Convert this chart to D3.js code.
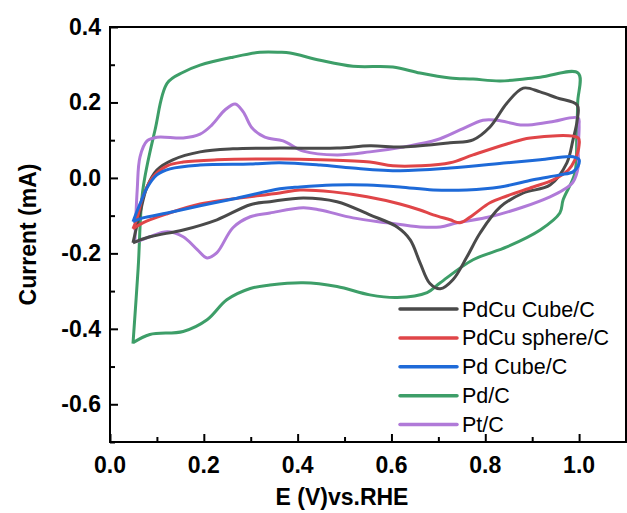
<!DOCTYPE html>
<html>
<head>
<meta charset="utf-8">
<script src="https://cdn.jsdelivr.net/npm/d3@7"></script>
<style>
  body { margin: 0; background: #fff; }
  svg { display: block; font-family: "Liberation Sans", Arial, sans-serif; }
</style>
</head>
<body>
<svg id="chart" width="627" height="513"></svg>
<script>
// CV curves: [E (V), I (mA)], anodic sweep then cathodic back
const pdcuCube = [
  [0.049,-0.172],[0.064,-0.093],[0.079,-0.024],[0.100,0.021],[0.134,0.048],[0.192,0.069],
  [0.262,0.077],[0.362,0.079],[0.484,0.079],[0.554,0.085],[0.625,0.082],[0.725,0.093],
  [0.774,0.101],[0.810,0.135],[0.846,0.198],[0.881,0.238],[0.917,0.228],[0.953,0.212],
  [0.996,0.193],
  [0.996,0.153],[0.987,0.101],[0.974,0.040],[0.938,-0.019],[0.881,-0.040],[0.832,-0.077],
  [0.789,-0.146],[0.761,-0.209],[0.731,-0.270],[0.704,-0.294],[0.682,-0.280],[0.661,-0.225],
  [0.640,-0.164],[0.612,-0.130],[0.554,-0.098],[0.484,-0.063],[0.412,-0.053],[0.341,-0.063],
  [0.299,-0.071],[0.228,-0.111],[0.156,-0.138],[0.085,-0.156],[0.049,-0.172]
];
const pdcuSphere = [
  [0.049,-0.135],[0.058,-0.106],[0.070,-0.050],[0.092,0.003],[0.122,0.032],[0.156,0.042],
  [0.228,0.048],[0.362,0.050],[0.448,0.048],[0.554,0.042],[0.603,0.032],[0.661,0.032],
  [0.725,0.040],[0.774,0.061],[0.846,0.090],[0.896,0.106],[0.998,0.106],
  [1.000,0.087],[0.991,0.048],[0.977,0.021],[0.945,-0.005],[0.902,-0.024],[0.846,-0.048],
  [0.810,-0.066],[0.774,-0.098],[0.746,-0.119],[0.725,-0.111],[0.689,-0.098],[0.661,-0.085],
  [0.618,-0.069],[0.548,-0.050],[0.475,-0.037],[0.405,-0.032],[0.362,-0.040],[0.192,-0.069],
  [0.122,-0.095],[0.070,-0.119],[0.049,-0.135]
];
const pdCube = [
  [0.049,-0.116],[0.064,-0.069],[0.079,-0.026],[0.100,0.008],[0.128,0.024],[0.192,0.034],
  [0.299,0.037],[0.362,0.040],[0.448,0.034],[0.518,0.026],[0.618,0.019],[0.725,0.026],
  [0.846,0.040],[0.917,0.048],[0.987,0.056],[1.000,0.048],
  [0.998,0.032],[0.987,0.016],[0.959,0.008],[0.902,-0.005],[0.832,-0.024],[0.761,-0.032],
  [0.689,-0.032],[0.618,-0.024],[0.548,-0.019],[0.475,-0.019],[0.405,-0.024],[0.362,-0.029],
  [0.262,-0.056],[0.192,-0.074],[0.122,-0.093],[0.070,-0.106],[0.049,-0.116]
];
const pdC = [
  [0.049,-0.439],[0.060,-0.240],[0.070,-0.032],[0.096,0.127],[0.122,0.251],[0.156,0.280],
  [0.192,0.299],[0.262,0.320],[0.320,0.333],[0.362,0.333],[0.384,0.331],[0.448,0.312],
  [0.518,0.296],[0.603,0.294],[0.661,0.278],[0.725,0.265],[0.774,0.262],[0.832,0.257],
  [0.917,0.267],[0.998,0.278],
  [0.997,0.200],[0.995,0.110],[0.991,0.013],[0.966,-0.058],[0.959,-0.093],[0.917,-0.138],
  [0.846,-0.183],[0.774,-0.217],[0.704,-0.278],[0.676,-0.304],[0.612,-0.317],[0.554,-0.310],
  [0.484,-0.288],[0.412,-0.278],[0.341,-0.284],[0.299,-0.293],[0.249,-0.323],[0.207,-0.376],
  [0.156,-0.407],[0.085,-0.415],[0.049,-0.437]
];
const ptC = [
  [0.053,-0.172],[0.058,-0.032],[0.064,0.056],[0.079,0.098],[0.100,0.108],[0.156,0.106],
  [0.192,0.116],[0.217,0.140],[0.245,0.180],[0.267,0.196],[0.284,0.175],[0.303,0.132],
  [0.330,0.108],[0.369,0.098],[0.412,0.071],[0.484,0.061],[0.554,0.069],[0.625,0.082],
  [0.697,0.101],[0.746,0.127],[0.795,0.153],[0.825,0.153],[0.881,0.140],[0.938,0.148],
  [0.998,0.159],
  [1.000,0.140],[0.998,0.074],[0.998,0.029],[0.987,-0.011],[0.966,-0.032],[0.938,-0.050],
  [0.881,-0.077],[0.810,-0.103],[0.740,-0.119],[0.704,-0.130],[0.661,-0.130],[0.591,-0.119],
  [0.518,-0.106],[0.448,-0.085],[0.412,-0.079],[0.341,-0.093],[0.299,-0.103],[0.262,-0.132],
  [0.228,-0.198],[0.207,-0.212],[0.186,-0.190],[0.156,-0.156],[0.122,-0.143],[0.085,-0.156],
  [0.058,-0.169]
];

const seriesNames = ['PdCu Cube/C', 'PdCu sphere/C', 'Pd Cube/C', 'Pd/C', 'Pt/C'];
const seriesData = [pdcuCube, pdcuSphere, pdCube, pdC, ptC];
const seriesColors = ['#4a4a4a', '#e04548', '#1e6ad8', '#3d9e68', '#b07ad8'];
// draw order: back to front
const drawOrder = [3, 4, 0, 1, 2];

const xTicks = [0.0, 0.2, 0.4, 0.6, 0.8, 1.0];
const yTicks = [-0.6, -0.4, -0.2, 0.0, 0.2, 0.4];

const svg = d3.select('#chart');
const plot = { left: 110, right: 626, top: 27, bottom: 442 };

const x = d3.scaleLinear().domain([0, 1.1]).range([plot.left, plot.right]);
const y = d3.scaleLinear().domain([-0.7, 0.4]).range([plot.bottom, plot.top]);

// curves
const line = d3.line()
  .x(d => x(d[0]))
  .y(d => y(d[1]))
  .curve(d3.curveCatmullRom.alpha(0.5));

svg.append('g')
  .selectAll('path')
  .data(drawOrder)
  .enter().append('path')
  .attr('d', i => line(seriesData[i]))
  .attr('fill', 'none')
  .attr('stroke', i => seriesColors[i])
  .attr('stroke-width', 3)
  .attr('stroke-linejoin', 'round');

// frame
svg.append('rect')
  .attr('x', plot.left).attr('y', plot.top)
  .attr('width', plot.right - plot.left).attr('height', plot.bottom - plot.top)
  .attr('fill', 'none').attr('stroke', '#000').attr('stroke-width', 2);

// x axis: ticks inward
const xAxis = svg.append('g').attr('transform', `translate(0,${plot.bottom})`);
xAxis.call(d3.axisBottom(x).tickValues(d3.range(0, 1.11, 0.1)).tickSize(0).tickFormat(''));
xAxis.select('.domain').remove();
xAxis.selectAll('.tick line')
  .attr('y2', (d, i) => i % 2 === 0 ? -8 : -5)
  .attr('stroke', '#000').attr('stroke-width', 2);

svg.append('g').selectAll('text')
  .data(xTicks).enter().append('text')
  .attr('x', d => x(d)).attr('y', plot.bottom + 31)
  .attr('text-anchor', 'middle')
  .attr('font-size', 23).attr('font-weight', 'bold')
  .text(d => d3.format('.1f')(d));

// y axis
const yAxis = svg.append('g').attr('transform', `translate(${plot.left},0)`);
yAxis.call(d3.axisLeft(y).tickValues(d3.range(-0.7, 0.41, 0.1)).tickSize(0).tickFormat(''));
yAxis.select('.domain').remove();
yAxis.selectAll('.tick line')
  .attr('x2', d => Math.round(d * 10) % 2 === 0 ? 8 : 5)
  .attr('stroke', '#000').attr('stroke-width', 2);

svg.append('g').selectAll('text')
  .data(yTicks).enter().append('text')
  .attr('x', plot.left - 9).attr('y', d => y(d) + 8)
  .attr('text-anchor', 'end')
  .attr('font-size', 23).attr('font-weight', 'bold')
  .text(d => d3.format('.1f')(d).replace('−', '-'));

// axis titles
svg.append('text')
  .attr('x', 342).attr('y', 505)
  .attr('text-anchor', 'middle')
  .attr('font-size', 23).attr('font-weight', 'bold')
  .text('E (V)vs.RHE');

svg.append('text')
  .attr('transform', `translate(36,${(plot.top + plot.bottom) / 2}) rotate(-90)`)
  .attr('text-anchor', 'middle')
  .attr('font-size', 23).attr('font-weight', 'bold')
  .text('Current (mA)');

// legend
const legend = svg.append('g');
const rows = legend.selectAll('g')
  .data(seriesNames).enter().append('g')
  .attr('transform', (d, i) => `translate(400,${309 + i * 28.9})`);
rows.append('line')
  .attr('x1', 0).attr('x2', 57)
  .attr('stroke', (d, i) => seriesColors[i])
  .attr('stroke-width', 3.5).attr('stroke-linecap', 'round');
rows.append('text')
  .attr('x', 62).attr('y', 7.5)
  .attr('font-size', 21.5)
  .text(d => d);
</script>
</body>
</html>
